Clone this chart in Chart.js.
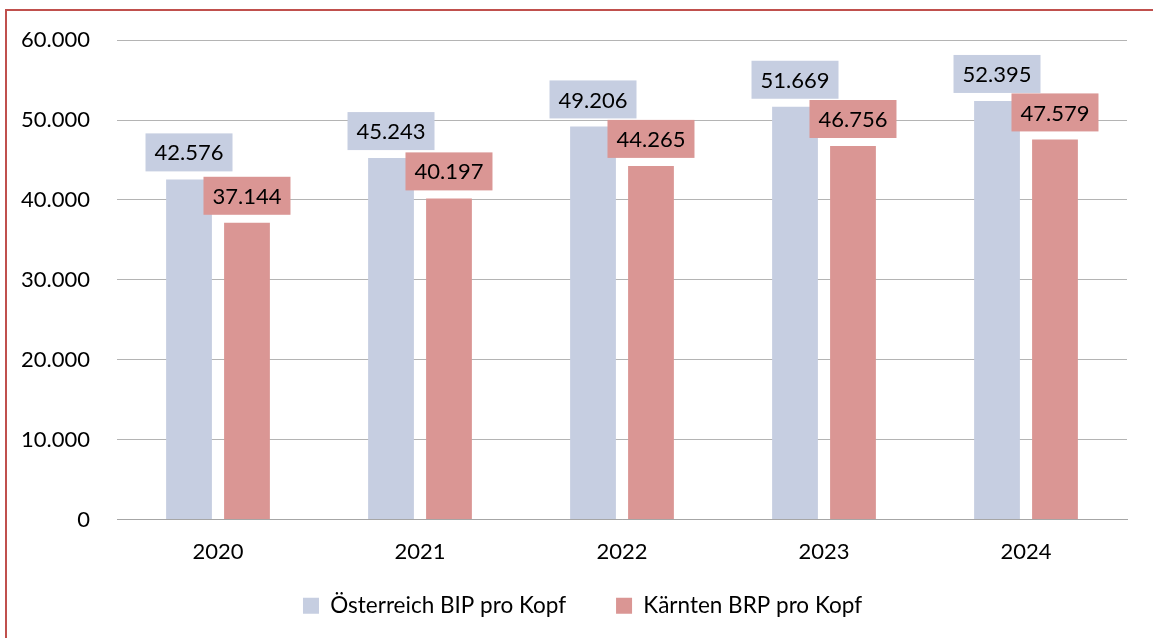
<!DOCTYPE html>
<html>
<head>
<meta charset="utf-8">
<script src="https://cdn.jsdelivr.net/npm/chart.js"></script>
<style>
  html, body { margin: 0; padding: 0; background: #fff; }
  #wrap { width: 1153px; height: 638px; }
</style>
</head>
<body>
<div id="wrap"><canvas id="chart" width="1153" height="638"></canvas></div>
<script>
const years = ['2020', '2021', '2022', '2023', '2024'];
const oesterreichBip = [42576, 45243, 49206, 51669, 52395];
const kaerntenBrp = [37144, 40197, 44265, 46756, 47579];
const yTicks = [0, 10000, 20000, 30000, 40000, 50000, 60000];

const FONT = 'Lato, "Open Sans", sans-serif';
const fmt = v => v.toLocaleString('de-DE');

// Frame round the whole chart
const framePlugin = {
    id: 'frame',
    beforeDraw(chart) {
        const ctx = chart.ctx;
        ctx.save();
        ctx.fillStyle = '#fff';
        ctx.fillRect(0, 0, chart.width, chart.height);
        ctx.strokeStyle = '#c0504d';
        ctx.lineWidth = 2;
        ctx.strokeRect(6, 10, chart.width + 10, chart.height + 10);
        ctx.restore();
    }
};

// legend padding is also used above the items, pull it up a bit
// and move it a little to the right, like in the original
const legendShift = {
    id: 'legendShift',
    afterLayout(chart) {
        chart.legend.top -= 21;
        chart.legend.bottom -= 21;
        chart.legend.left += 19;
        chart.legend.right += 19;
    }
};

// Value labels in filled boxes above each bar
const boxLabels = {
    id: 'boxLabels',
    afterDatasetsDraw(chart) {
        const ctx = chart.ctx;
        ctx.save();
        ctx.font = '22px ' + FONT;
        ctx.textAlign = 'center';
        ctx.textBaseline = 'middle';
        chart.data.datasets.forEach((ds, i) => {
            chart.getDatasetMeta(i).data.forEach((bar, j) => {
                const txt = fmt(ds.data[j]);
                const w = ctx.measureText(txt).width + 18;
                const h = 38;
                const bottom = bar.y - 8;
                ctx.fillStyle = ds.backgroundColor;
                ctx.fillRect(bar.x - w / 2, bottom - h, w, h);
                ctx.fillStyle = '#000';
                ctx.fillText(txt, bar.x, bottom - h / 2 + 1);
            });
        });
        ctx.restore();
    }
};

new Chart(document.getElementById('chart').getContext('2d'), {
    type: 'bar',
    data: {
        labels: years,
        datasets: [{
            label: 'Österreich BIP pro Kopf',
            data: oesterreichBip,
            backgroundColor: '#c6cee1',
            barPercentage: 0.79,
            categoryPercentage: 0.574
        }, {
            label: 'Kärnten BRP pro Kopf',
            data: kaerntenBrp,
            backgroundColor: '#da9694',
            barPercentage: 0.79,
            categoryPercentage: 0.574
        }]
    },
    options: {
        responsive: false,
        animation: false,
        layout: {
            padding: { top: 39, right: 26, bottom: -10, left: 0 }
        },
        plugins: {
            tooltip: { enabled: false },
            legend: {
                position: 'bottom',
                labels: {
                    font: { family: FONT, size: 22.5 },
                    color: '#000',
                    boxWidth: 16,
                    boxHeight: 16,
                    padding: 50
                }
            }
        },
        scales: {
            x: {
                grid: { display: false, drawTicks: false },
                border: { color: '#a6a6a6', width: 1 },
                ticks: {
                    font: { family: FONT, size: 22 },
                    color: '#000',
                    padding: 19
                },
                afterFit(scale) { scale.height = 46; }
            },
            y: {
                min: 0,
                max: 60000,
                afterBuildTicks(scale) {
                    scale.ticks = yTicks.map(v => ({ value: v }));
                },
                grid: { color: '#b4b4b4', drawTicks: false },
                border: { display: false },
                ticks: {
                    font: { family: FONT, size: 22 },
                    color: '#000',
                    padding: 27,
                    callback: v => fmt(v)
                },
                afterFit(scale) { scale.width = 117; }
            }
        }
    },
    plugins: [framePlugin, legendShift, boxLabels]
});
</script>
</body>
</html>
